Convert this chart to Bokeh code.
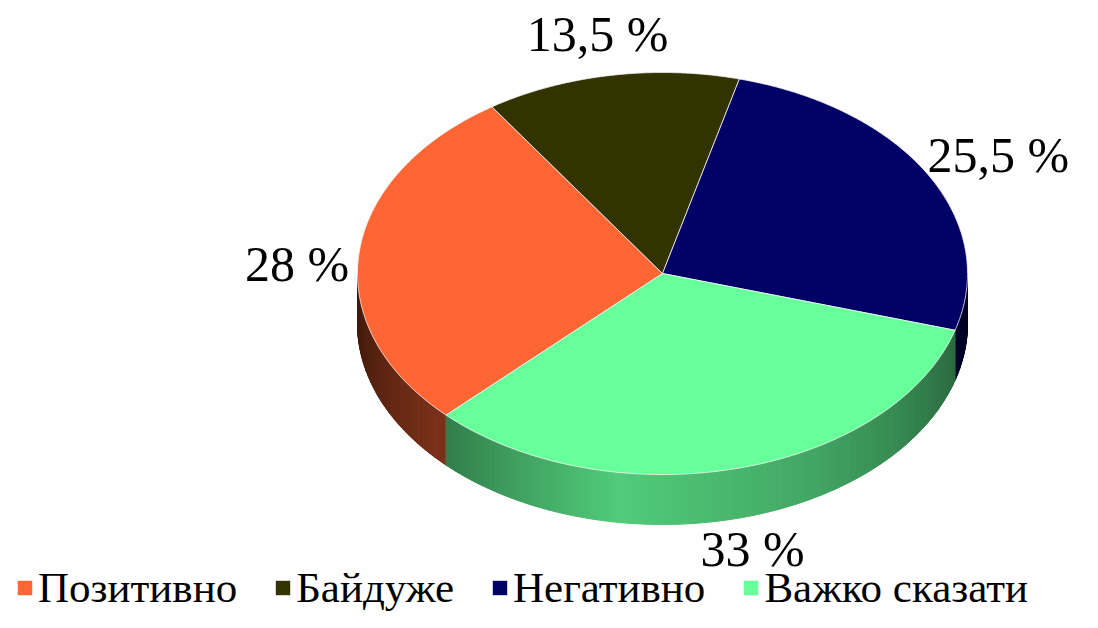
import numpy as np
from bokeh.plotting import figure
from bokeh.models import Range1d, Legend, LegendItem, ColumnDataSource
from bokeh.core.properties import value
from bokeh.embed import file_html
from bokeh.resources import INLINE

# ---- data ----
categories = ["Позитивно", "Байдуже", "Негативно", "Важко сказати"]
shares = [28.0, 13.5, 25.5, 33.0]
labels = ["28 %", "13,5 %", "25,5 %", "33 %"]
colors = ["#FF6633", "#333300", "#000066", "#66FF99"]

# ---- geometry / style ----
CX, CY, RX, RY, DEPTH = 662.0, 273.0, 305.0, 201.0, 50.0
START = 224.8  # start angle (deg), slices run clockwise
FONT = "Liberation Serif"
LABEL_PX = 50

p = figure(width=1082, height=612, x_range=Range1d(0, 1082), y_range=Range1d(612, 0),
           output_backend="svg", toolbar_location=None, min_border=0,
           x_axis_type=None, y_axis_type=None)
p.grid.visible = False
p.outline_line_color = None
p.background_fill_color = "white"


def ex(t):
    return CX + RX * np.cos(t)


def ey(t):
    return CY - RY * np.sin(t)


def hex_to_rgb(h):
    h = h.lstrip("#")
    return [int(h[i:i + 2], 16) for i in (0, 2, 4)]


def shade(h, f):
    r, g, b = hex_to_rgb(h)
    return "#%02x%02x%02x" % (int(min(255, r * f)), int(min(255, g * f)), int(min(255, b * f)))


def light(tdeg):
    t = tdeg % 360
    return float(np.interp(t, [180, 226, 262, 300, 343, 360], [0.23, 0.5, 0.8, 0.65, 0.42, 0.35]))


def text_em(s):
    w = {",": 0.25, " ": 0.25, "%": 0.833}
    return sum(w.get(ch, 0.5) for ch in s)


total = sum(shares)
cum = np.cumsum([0] + shares)
his = [START - cum[i] / total * 360 for i in range(len(shares))]
los = [START - cum[i + 1] / total * 360 for i in range(len(shares))]

# side walls
sx, sy, sc = [], [], []
for i in range(len(shares)):
    lo, hi = los[i], his[i]
    n = max(2, int((hi - lo) * 2))
    ts = np.linspace(lo, hi, n + 1)
    for a, b in zip(ts[:-1], ts[1:]):
        m = np.radians((a + b) / 2)
        if np.sin(m) >= 0:
            continue
        ra, rb = np.radians(a), np.radians(b)
        sx.append([ex(ra), ex(rb), ex(rb), ex(ra)])
        sy.append([ey(ra), ey(rb), ey(rb) + DEPTH, ey(ra) + DEPTH])
        sc.append(shade(colors[i], light((a + b) / 2)))
p.patches(xs=sx, ys=sy, fill_color=sc, line_color=sc, line_width=1)

# top faces
tx, ty = [], []
for i in range(len(shares)):
    ts = np.radians(np.linspace(los[i], his[i], 200))
    tx.append([CX] + list(ex(ts)))
    ty.append([CY] + list(ey(ts)))
src = ColumnDataSource(dict(xs=tx, ys=ty, color=colors, name=categories))
top = p.patches(xs="xs", ys="ys", fill_color="color", line_color="#f4f4f4",
                line_width=1, line_alpha=0.8, source=src)

# data labels (outside end)
GAP_X, GAP_Y = 10, 18
for i in range(len(shares)):
    mid = np.radians((los[i] + his[i]) / 2)
    c, s = np.cos(mid), np.sin(mid)
    hw = text_em(labels[i]) * LABEL_PX / 2
    hh = LABEL_PX * 0.38
    x = ex(mid) + c * (hw + GAP_X)
    x = min(x, 1081 - hw)
    if s < 0:
        y = ey(mid) + DEPTH - s * (hh + GAP_Y)
    else:
        y = ey(mid) + DEPTH * (1 - s) ** 3 / 2 - s * (hh + GAP_Y)
    y -= 0.1 * LABEL_PX
    p.text(x=[x], y=[y], text=[labels[i]], text_font=value(FONT), text_font_size=f"{LABEL_PX}px",
           text_color="black", text_align="center", text_baseline="middle")

legend = Legend(items=[LegendItem(label=categories[i], renderers=[top], index=i) for i in range(4)],
                orientation="horizontal", location=(15, 0), spacing=36, label_standoff=4,
                glyph_width=19, glyph_height=19, padding=0, margin=0,
                label_text_font=FONT, label_text_font_size="43px", label_text_color="black",
                background_fill_alpha=0, border_line_color=None)
p.add_layout(legend)

open("out.html", "w").write(file_html(p, INLINE))
